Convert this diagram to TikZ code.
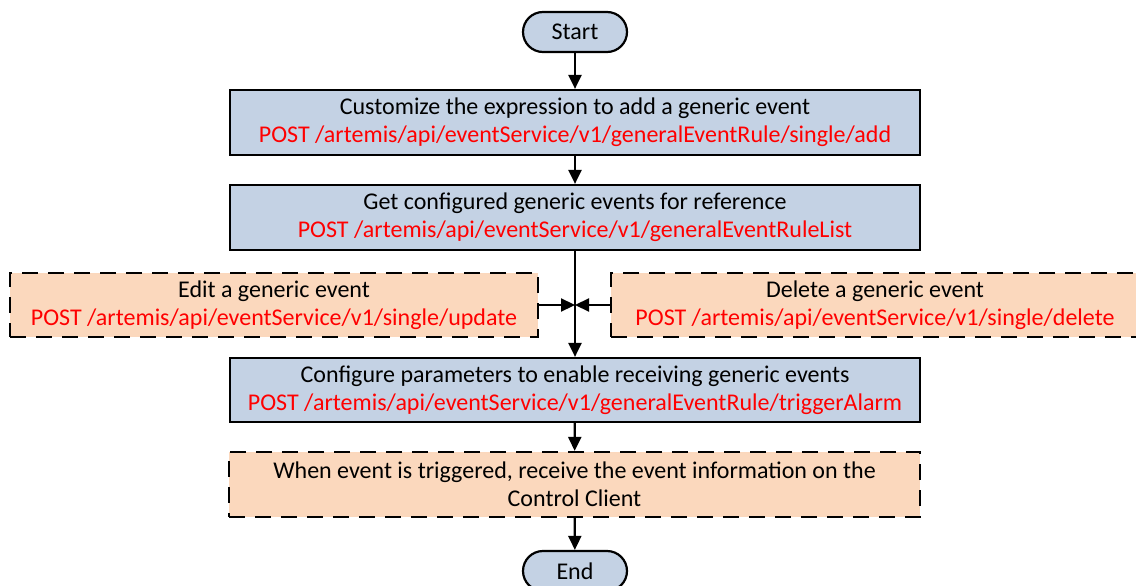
\documentclass[tikz,border=0pt]{standalone}
\usepackage{fontspec}
\setmainfont{Carlito}
\usetikzlibrary{arrows.meta}
\definecolor{boxblue}{RGB}{196,210,228}
\definecolor{boxpeach}{RGB}{251,216,189}
\definecolor{apired}{RGB}{255,0,0}
\begin{document}
\begin{tikzpicture}[x=1pt,y=-1pt,
  base/.style={draw=black, line width=2.2pt, inner sep=0pt, align=center,
    font=\fontsize{24}{28}\selectfont},
  terminal/.style={base, fill=boxblue, rounded corners=20pt, minimum width=104pt, minimum height=40pt},
  stepbox/.style={base, fill=boxblue, minimum width=690pt, minimum height=65pt},
  optbox/.style={base, fill=boxpeach, dash pattern=on 16pt off 10pt},
  conn/.style={draw=black, line width=2.2pt, -{Triangle[length=14pt,width=13pt]}},
  api/.style={color=apired}
]
\useasboundingbox (0,0) rectangle (1136,586);
\clip (0,0) rectangle (1136,586);
\fill[white] (0,0) rectangle (1136,586);

\node[terminal] (start) at (575,32) {Start};
\node[stepbox] (add) at (575,122.5) {Customize the expression to add a generic event\\
  \textcolor{apired}{POST /artemis/api/eventService/v1/generalEventRule/single/add}};
\node[stepbox] (list) at (575,217.5) {Get configured generic events for reference\\
  \textcolor{apired}{POST /artemis/api/eventService/v1/generalEventRuleList}};
\node[optbox, minimum width=528pt, minimum height=64pt] (edit) at (274,305) {Edit a generic event\\
  \textcolor{apired}{POST /artemis/api/eventService/v1/single/update}};
\node[optbox, minimum width=528pt, minimum height=64pt] (delete) at (875,305) {Delete a generic event\\
  \textcolor{apired}{POST /artemis/api/eventService/v1/single/delete}};
\node[stepbox, minimum height=64pt] (trigger) at (575,390) {Configure parameters to enable receiving generic events\\
  \textcolor{apired}{POST /artemis/api/eventService/v1/generalEventRule/triggerAlarm}};
\node[optbox, minimum width=691pt, minimum height=65pt] (receive) at (574.5,484.5) {When event is triggered, receive the event information on the\\
  Control Client};
\node[terminal] (end) at (575,571) {End};

\coordinate (junction) at (575,305);

\draw[conn] (start) -- (add);
\draw[conn] (add) -- (list);
\draw[conn] (list) -- (trigger);
\draw[conn] (edit.east) -- (junction);
\draw[conn] (delete.west) -- (junction);
\draw[conn] (trigger) -- (receive);
\draw[conn] (receive) -- (end);
\end{tikzpicture}
\end{document}
